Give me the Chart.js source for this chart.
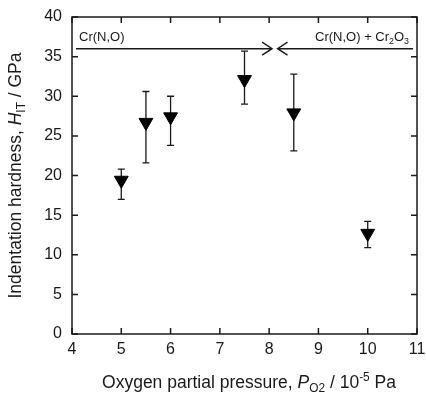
<!DOCTYPE html>
<html>
<head>
<meta charset="utf-8">
<script src="https://cdn.jsdelivr.net/npm/chart.js@4.4.0/dist/chart.umd.min.js"></script>
<style>
  html, body { margin: 0; padding: 0; background: #fff; }
  #wrap { width: 426px; height: 394px; }
</style>
</head>
<body>
<div id="wrap"><canvas id="chart" width="426" height="394"></canvas></div>
<script>
// data
const pressure = [5, 5.5, 6, 7.5, 8.5, 10];
const hardness = [19.4, 26.7, 27.4, 32.1, 27.9, 12.7];
const errLow = [17.0, 21.6, 23.8, 29.0, 23.1, 10.9];
const errHigh = [20.8, 30.6, 30.0, 35.7, 32.8, 14.2];

// phase boundary arrows (data units)
const arrowY = 36;
const leftArrow = [4.08, 8.06];
const rightArrow = [8.17, 10.92];

const FONT = '"Liberation Sans", Arial, Helvetica, sans-serif';
const INK = "#1a1a1a";

// draws text with italic / sub / sup pieces (baseline y)
function richWidth(ctx, parts, size) {
    let w = 0;
    parts.forEach(p => {
        const s = (p.sub || p.sup) ? size * 0.68 : size;
        ctx.font = (p.italic ? "italic " : "") + s + "px " + FONT;
        w += ctx.measureText(p.t).width;
    });
    return w;
}
function drawRich(ctx, parts, x, y, size, align) {
    const total = richWidth(ctx, parts, size);
    let cx = align === "left" ? x : align === "right" ? x - total : x - total / 2;
    ctx.textAlign = "left";
    ctx.textBaseline = "alphabetic";
    parts.forEach(p => {
        const s = (p.sub || p.sup) ? size * 0.68 : size;
        ctx.font = (p.italic ? "italic " : "") + s + "px " + FONT;
        let dy = 0;
        if (p.sub) dy = size * 0.22;
        if (p.sup) dy = -size * 0.38;
        ctx.fillText(p.t, cx, y + dy);
        cx += ctx.measureText(p.t).width;
    });
}

const errorBars = {
    id: "errorBars",
    beforeDatasetsDraw(chart) {
        const ctx = chart.ctx;
        const xs = chart.scales.x, ys = chart.scales.y;
        ctx.save();
        ctx.strokeStyle = INK;
        ctx.lineWidth = 1.3;
        pressure.forEach((p, i) => {
            const px = xs.getPixelForValue(p);
            const lo = ys.getPixelForValue(errLow[i]);
            const hi = ys.getPixelForValue(errHigh[i]);
            ctx.beginPath();
            ctx.moveTo(px, lo); ctx.lineTo(px, hi);
            ctx.moveTo(px - 3.5, lo); ctx.lineTo(px + 3.5, lo);
            ctx.moveTo(px - 3.5, hi); ctx.lineTo(px + 3.5, hi);
            ctx.stroke();
        });
        ctx.restore();
    }
};

const frame = {
    id: "frame",
    afterDraw(chart) {
        const ctx = chart.ctx;
        const a = chart.chartArea;
        const xs = chart.scales.x, ys = chart.scales.y;
        ctx.save();
        ctx.strokeStyle = INK;
        ctx.fillStyle = INK;
        ctx.lineWidth = 1.5;
        ctx.strokeRect(a.left, a.top, a.right - a.left, a.bottom - a.top);

        // inward ticks on all four sides
        const tl = 6;
        ctx.beginPath();
        xs.ticks.forEach(t => {
            const px = xs.getPixelForValue(t.value);
            ctx.moveTo(px, a.bottom); ctx.lineTo(px, a.bottom - tl);
            ctx.moveTo(px, a.top); ctx.lineTo(px, a.top + tl);
        });
        ys.ticks.forEach(t => {
            const py = ys.getPixelForValue(t.value);
            ctx.moveTo(a.left, py); ctx.lineTo(a.left + tl, py);
            ctx.moveTo(a.right, py); ctx.lineTo(a.right - tl, py);
        });
        ctx.stroke();

        // phase boundary line with arrows
        const ay = ys.getPixelForValue(arrowY);
        const l0 = xs.getPixelForValue(leftArrow[0]), l1 = xs.getPixelForValue(leftArrow[1]);
        const r0 = xs.getPixelForValue(rightArrow[0]), r1 = xs.getPixelForValue(rightArrow[1]);
        ctx.lineWidth = 1.4;
        ctx.beginPath();
        ctx.moveTo(l0, ay); ctx.lineTo(l1, ay);
        ctx.moveTo(l1 - 10, ay - 6.5); ctx.lineTo(l1, ay); ctx.lineTo(l1 - 10, ay + 6.5);
        ctx.moveTo(r1, ay); ctx.lineTo(r0, ay);
        ctx.moveTo(r0 + 10, ay - 6.5); ctx.lineTo(r0, ay); ctx.lineTo(r0 + 10, ay + 6.5);
        ctx.stroke();

        // phase labels
        drawRich(ctx, [{ t: "Cr(N,O)" }], a.left + 7, ay - 8, 13, "left");
        drawRich(ctx, [
            { t: "Cr(N,O) + Cr" }, { t: "2", sub: true }, { t: "O" }, { t: "3", sub: true }
        ], a.right - 8, ay - 8, 13, "right");

        // axis titles
        drawRich(ctx, [
            { t: "Oxygen partial pressure, " }, { t: "P", italic: true }, { t: "O2", sub: true },
            { t: " / 10" }, { t: "-5", sup: true }, { t: " Pa" }
        ], 249, 388, 17.5, "center");

        ctx.translate(15, (a.top + a.bottom) / 2);
        ctx.rotate(-Math.PI / 2);
        drawRich(ctx, [
            { t: "Indentation hardness, " }, { t: "H", italic: true }, { t: "IT", sub: true },
            { t: " / GPa" }
        ], 0, 6, 17.5, "center");
        ctx.restore();
    }
};

const ctx = document.getElementById("chart").getContext("2d");
new Chart(ctx, {
    type: "scatter",
    data: {
        datasets: [{
            data: pressure.map((p, i) => ({ x: p, y: hardness[i] })),
            pointStyle: "triangle",
            rotation: 180,
            pointRadius: 8,
            pointHoverRadius: 8,
            backgroundColor: "#000",
            borderColor: "#000",
            borderWidth: 1,
            showLine: false
        }]
    },
    options: {
        responsive: false,
        animation: false,
        events: [],
        layout: { padding: { top: 17, right: 8, left: 0, bottom: 0 } },
        plugins: { legend: { display: false }, tooltip: { enabled: false } },
        scales: {
            x: {
                min: 4, max: 11,
                ticks: { stepSize: 1, padding: 6, color: INK, font: { family: FONT, size: 16 }, maxRotation: 0 },
                grid: { display: false, drawTicks: false },
                border: { display: false },
                afterFit: s => { s.height = 60; s.paddingLeft = 0; s.paddingRight = 0; }
            },
            y: {
                min: 0, max: 40,
                ticks: { stepSize: 5, padding: 10, color: INK, font: { family: FONT, size: 16 } },
                grid: { display: false, drawTicks: false },
                border: { display: false },
                afterFit: s => { s.width = 72; s.paddingTop = 0; s.paddingBottom = 0; }
            }
        }
    },
    plugins: [errorBars, frame]
});
</script>
</body>
</html>
